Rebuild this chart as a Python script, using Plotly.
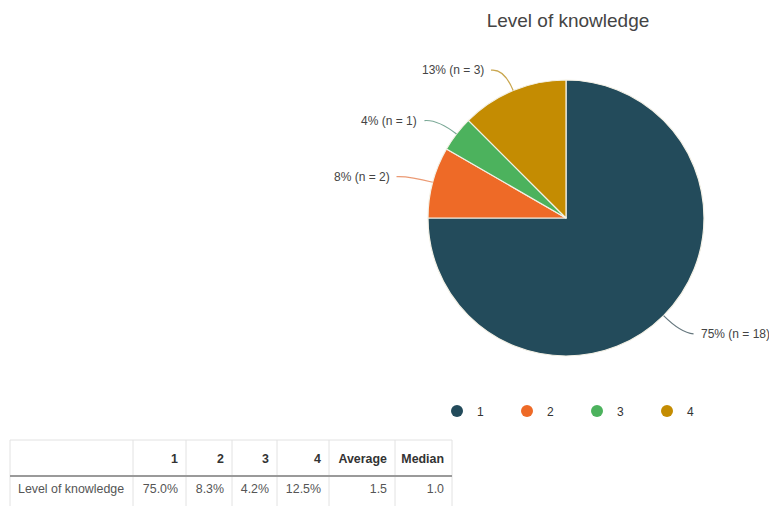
import math
import plotly.graph_objects as go

# ---- data ----
categories = ["1", "2", "3", "4"]
counts = [18, 2, 1, 3]
slice_colors = ["#234b5b", "#ee6a27", "#4cb25d", "#c48c02"]
leader_colors = ["#66777e", "#eb9a74", "#7aa896", "#c9a64e"]
row_label = "Level\u00a0of\u00a0knowledge"
title_text = "Level of knowledge"
col_widths = [123, 53, 46, 45, 52, 66, 57]

FONT = "Liberation Sans, Arial, sans-serif"
W, H = 769, 506
CX, CY, R = 566, 218, 138  # pie centre / radius in px


def px(x):
    return x / W


def py(y):
    return 1 - y / H


total = sum(counts)
shares = [c / total for c in counts]

fig = go.Figure()

fig.add_trace(go.Pie(
    labels=categories,
    values=counts,
    sort=False,
    direction="clockwise",
    rotation=0,
    marker=dict(colors=slice_colors, line=dict(color="#f4f1e6", width=1.2)),
    textinfo="none",
    hoverinfo="label+percent",
    showlegend=False,
    domain=dict(x=[px(CX - R), px(CX + R)], y=[py(CY + R), py(CY - R)]),
))

# circular legend markers
for cat, col in zip(categories, slice_colors):
    fig.add_trace(go.Scatter(
        x=[None], y=[None], mode="markers", name=cat,
        marker=dict(color=col, size=12, symbol="circle"),
        showlegend=True,
    ))

# outside labels with curved leader lines, positioned from slice mid-angles
shapes = []
annotations = []
cum = 0.0
for cnt, share, lc in zip(counts, shares, leader_colors):
    mid = (cum + share / 2) * 2 * math.pi
    cum += share
    dx, dy = math.sin(mid), -math.cos(mid)
    side = 1 if dx >= 0 else -1
    x0, y0 = CX + R * dx, CY + R * dy
    x1, y1 = CX + (R + 24) * dx, CY + (R + 24) * dy
    x2, y2 = x1 + side * 13, y1 + 2 * abs(dy)
    shapes.append(dict(
        type="path", xref="paper", yref="paper",
        path=f"M {px(x0)},{py(y0)} Q {px(x1)},{py(y1)} {px(x2)},{py(y2)}",
        line=dict(color=lc, width=1.2),
    ))
    pct = math.floor(share * 100 + 0.5)
    annotations.append(dict(
        x=px(x2 + side * 5), y=py(y2), xref="paper", yref="paper",
        text=f"{pct}% (n = {cnt})", showarrow=False,
        xanchor="left" if side > 0 else "right", yanchor="middle",
        font=dict(size=12, color="#444444", family=FONT),
    ))

# summary table
values_expanded = []
for i, c in enumerate(counts):
    values_expanded += [i + 1] * c
values_expanded.sort()
n = len(values_expanded)
median = (values_expanded[(n - 1) // 2] + values_expanded[n // 2]) / 2
average = sum(values_expanded) / n

header_vals = [""] + categories + ["Average", "Median"]
cell_vals = [[row_label]] + [[f"{s * 100:.1f}%"] for s in shares] + [[f"{average:.1f}"], [f"{median:.1f}"]]

TX0, TX1, TY0, TSEP, TY1 = 10, 452, 440, 476, 506
fig.add_trace(go.Table(
    domain=dict(x=[px(TX0), px(TX1)], y=[0, py(TY0 + 4)]),
    columnwidth=col_widths,
    header=dict(
        values=[f"<b>{v}</b>" if v else "" for v in header_vals],
        align=["left"] + ["right"] * 6,
        height=TSEP - TY0 - 4,
        fill_color="white",
        line=dict(color="rgba(0,0,0,0)", width=0),
        font=dict(size=12.4, color="#333333", family=FONT),
    ),
    cells=dict(
        values=cell_vals,
        align=["left"] + ["right"] * 6,
        height=TY1 - TSEP,
        fill_color="white",
        line=dict(color="rgba(0,0,0,0)", width=0),
        font=dict(size=12.4, color="#555555", family=FONT),
    ),
))

# table grid lines
grid = "#e2e2e2"
shapes.append(dict(type="line", xref="paper", yref="paper",
                   x0=px(TX0), x1=px(TX1), y0=py(TY0), y1=py(TY0),
                   line=dict(color=grid, width=1)))
wsum = sum(col_widths)
xb = TX0
bounds = [xb]
for w in col_widths:
    xb += w / wsum * (TX1 - TX0)
    bounds.append(xb)
for b in bounds:
    shapes.append(dict(type="line", xref="paper", yref="paper",
                       x0=px(b), x1=px(b), y0=py(TY0), y1=py(TY1),
                       line=dict(color=grid, width=1)))
shapes.append(dict(type="line", xref="paper", yref="paper",
                   x0=px(TX0), x1=px(TX1), y0=py(TSEP), y1=py(TSEP),
                   line=dict(color="#9a9a9a", width=2)))

fig.update_layout(
    width=W, height=H,
    margin=dict(l=0, r=0, t=0, b=0),
    paper_bgcolor="white",
    plot_bgcolor="white",
    xaxis=dict(visible=False),
    yaxis=dict(visible=False),
    title=dict(
        text=title_text, x=px(568), y=py(20), xanchor="center", yanchor="middle",
        font=dict(size=19, color="#444444", family=FONT),
    ),
    legend=dict(
        orientation="h", x=px(437), y=py(411), xanchor="left", yanchor="middle",
        entrywidth=25, entrywidthmode="pixels",
        bgcolor="rgba(0,0,0,0)",
        font=dict(size=12, color="#333333", family=FONT),
    ),
    shapes=shapes,
    annotations=annotations,
)

fig.write_html("out.html")
